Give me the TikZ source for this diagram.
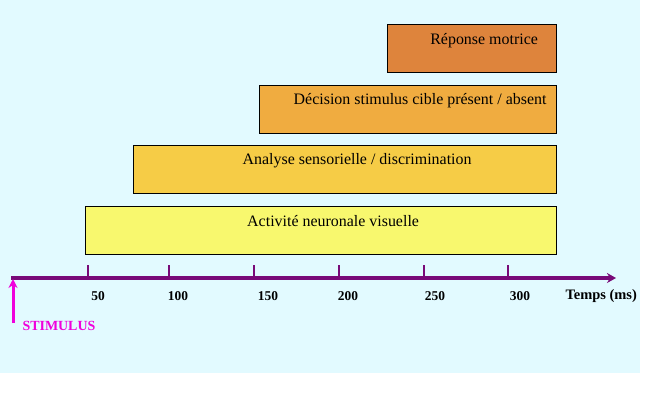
\documentclass[tikz,border=0pt]{standalone}
\usepackage{fontspec}
\setmainfont{Liberation Serif}
\usetikzlibrary{arrows.meta}
\definecolor{fond}{RGB}{226,250,255}
\definecolor{axe}{RGB}{120,10,120}
\definecolor{stim}{RGB}{240,0,220}
\definecolor{motrice}{RGB}{222,132,60}
\definecolor{decision}{RGB}{240,172,64}
\definecolor{analyse}{RGB}{246,204,70}
\definecolor{activite}{RGB}{248,248,110}
\tikzset{
  bande/.style={draw=black, line width=1.2bp, minimum height=48bp, anchor=north west, inner sep=0pt},
  titre/.style={font=\fontsize{16}{18}\selectfont},
  graduation/.style={font=\bfseries\fontsize{13.5}{15}\selectfont}
}
\begin{document}
\begin{tikzpicture}[x=1bp, y=-1bp]
        \useasboundingbox (0,0) rectangle (665,393);
        \fill[fond] (0,0) rectangle (640,373);

        % Bandes
        \node[bande, fill=motrice, minimum width=169bp] (rep) at (387,24) {};
        \node[bande, fill=decision, minimum width=297bp] (dec) at (259,85) {};
        \node[bande, fill=analyse, minimum width=423bp] (ana) at (133,145) {};
        \node[bande, fill=activite, minimum width=471bp] (act) at (85,206) {};
        \node[titre] at ([xshift=12bp, yshift=-17bp]rep.north) {Réponse motrice};
        \node[titre] at ([xshift=12bp, yshift=-16bp]dec.north) {Décision stimulus cible présent / absent};
        \node[titre] at ([xshift=12bp, yshift=-16bp]ana.north) {Analyse sensorielle / discrimination};
        \node[titre] at ([xshift=12bp, yshift=-15bp]act.north) {Activité neuronale visuelle};

        % Axe du temps
        \coordinate (t0) at (11,278); \coordinate (tfin) at (616,278);
        \draw[axe, line width=3.5bp, -{Stealth[length=9bp,width=10bp]}] (t0) -- (tfin);
        \foreach \x/\ms/\dx in {88/50/10, 169/100/9, 254/150/14, 339/200/9, 424/250/11, 508/300/12} {
          \coordinate (g\ms) at (\x,278);
          \draw[axe, line width=2.5bp] (g\ms) -- ++(0,-13);
          \node[graduation] at ([xshift=\dx bp, yshift=-18bp]g\ms) {\ms};
        }
        \node[graduation, font=\bfseries\fontsize{14.5}{16}\selectfont, anchor=west] (temps) at (562,296) {Temps (ms)};

        % Stimulus
        \coordinate (s0) at (13,323); \coordinate (s1) at (13,279);
        \draw[stim, line width=3bp, -{Stealth[length=9bp,width=9bp]}] (s0) -- (s1);
        \node[graduation, font=\bfseries\fontsize{14}{16}\selectfont, stim, anchor=west] (stimulus) at (19,326) {STIMULUS};
    \end{tikzpicture}
\end{document}
